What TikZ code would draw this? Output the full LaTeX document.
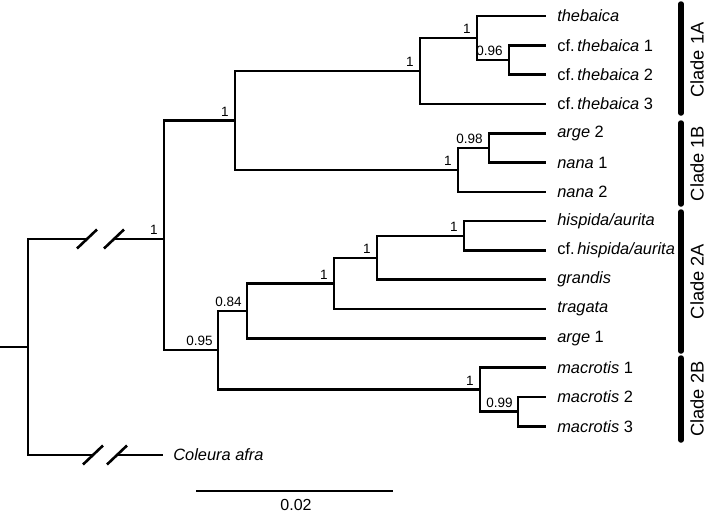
\documentclass[tikz,border=0pt]{standalone}
\usepackage{fontspec}
\setmainfont{Liberation Sans}
\begin{document}
\begin{tikzpicture}[x=1pt,y=-1pt,line width=2.6pt,
        leaf/.style={anchor=west,inner xsep=10pt,inner ysep=0pt,font=\fontsize{16.4}{16}\selectfont},
        supp/.style={anchor=south east,inner sep=1pt,font=\fontsize{13.5}{14}\selectfont},
        clade/.style={rotate=90,inner sep=0pt,font=\fontsize{18.3}{18}\selectfont},
        cbar/.style={line width=5.5pt,line cap=round}]
    \useasboundingbox (0,0) rectangle (709,515);

    % tips
    \node[leaf] (thebaica) at (546,16) {\textit{thebaica}};
    \node[leaf] (cft1) at (546,45.3) {cf.\,\textit{thebaica} 1};
    \node[leaf] (cft2) at (546,74.6) {cf.\,\textit{thebaica} 2};
    \node[leaf] (cft3) at (546,103.9) {cf.\,\textit{thebaica} 3};
    \node[leaf] (arge2) at (546,133.2) {\textit{arge} 2};
    \node[leaf] (nana1) at (546,162.5) {\textit{nana} 1};
    \node[leaf] (nana2) at (546,191.8) {\textit{nana} 2};
    \node[leaf] (hisp) at (546,221.1) {\textit{hispida/aurita}};
    \node[leaf] (cfhisp) at (546,250.4) {cf.\,\textit{hispida/aurita}};
    \node[leaf] (grandis) at (546,279.7) {\textit{grandis}};
    \node[leaf] (tragata) at (546,309) {\textit{tragata}};
    \node[leaf] (arge1) at (546,338.3) {\textit{arge} 1};
    \node[leaf] (mac1) at (546,367.6) {\textit{macrotis} 1};
    \node[leaf] (mac2) at (546,396.9) {\textit{macrotis} 2};
    \node[leaf] (mac3) at (546,426.2) {\textit{macrotis} 3};
    \node[leaf,inner xsep=9pt] (afra) at (163,455) {\textit{Coleura afra}};

    % inner nodes
    \coordinate (a3) at (509,60);
    \coordinate (a2) at (477,38);
    \coordinate (a1) at (420,71);
    \coordinate (b2) at (489,148);
    \coordinate (b1) at (458,170);
    \coordinate (n1) at (235,120.5);
    \coordinate (g) at (464,235.8);
    \coordinate (f) at (377,258);
    \coordinate (e) at (334,283.5);
    \coordinate (d) at (247,311);
    \coordinate (i) at (518,411.5);
    \coordinate (h) at (480,389.5);
    \coordinate (c) at (218,350);
    \coordinate (top) at (164,239);
    \coordinate (root) at (28,347);
    \coordinate (stub) at (0,347);

    % breaks
    \coordinate (brk1) at (87,239);
    \coordinate (brk2) at (114,239);
    \coordinate (brk3) at (93,455);
    \coordinate (brk4) at (117,455);

    % branches
    \draw (a3) |- (cft1.west);
    \draw (a3) |- (cft2.west);
    \draw (a2) |- (thebaica.west);
    \draw (a2) |- (a3);
    \draw (a1) |- (a2);
    \draw (a1) |- (cft3.west);
    \draw (b2) |- (arge2.west);
    \draw (b2) |- (nana1.west);
    \draw (b1) |- (b2);
    \draw (b1) |- (nana2.west);
    \draw (n1) |- (a1);
    \draw (n1) |- (b1);
    \draw (g) |- (hisp.west);
    \draw (g) |- (cfhisp.west);
    \draw (f) |- (g);
    \draw (f) |- (grandis.west);
    \draw (e) |- (f);
    \draw (e) |- (tragata.west);
    \draw (d) |- (e);
    \draw (d) |- (arge1.west);
    \draw (i) |- (mac2.west);
    \draw (i) |- (mac3.west);
    \draw (h) |- (mac1.west);
    \draw (h) |- (i);
    \draw (c) |- (d);
    \draw (c) |- (h);
    \draw (top) |- (n1);
    \draw (top) |- (c);
    \draw (stub) -- (root);
    \draw (root) |- (brk1);
    \draw (brk2) -- (top);
    \draw (root) |- (brk3);
    \draw (brk4) -- (afra.west);
    \foreach \b in {brk1,brk2,brk3,brk4}
        \draw ([shift={(-10,9.5)}]\b) -- ([shift={(10,-9.5)}]\b);

    % support values
    \node[supp] at ([shift={(-4,-2)}]a3) {0.96};
    \node[supp] at ([shift={(-4,-2)}]a2) {1};
    \node[supp] at ([shift={(-4,-2)}]a1) {1};
    \node[supp] at ([shift={(-4,-2)}]b2) {0.98};
    \node[supp] at ([shift={(-4,-2)}]b1) {1};
    \node[supp] at ([shift={(-4,-2)}]n1) {1};
    \node[supp] at ([shift={(-4,-2)}]g) {1};
    \node[supp] at ([shift={(-4,-2)}]f) {1};
    \node[supp] at ([shift={(-4,-2)}]e) {1};
    \node[supp] at ([shift={(-3,-2)}]d) {0.84};
    \node[supp] at ([shift={(-4,-2)}]h) {1};
    \node[supp] at ([shift={(-3,-2)}]i) {0.99};
    \node[supp] at ([shift={(-3,-2)}]c) {0.95};
    \node[supp] at ([shift={(-4,-2)}]top) {1};

    % clades
    \coordinate (c1a) at (681,4);   \coordinate (c1a') at (681,113);
    \coordinate (c1b) at (681,123); \coordinate (c1b') at (681,204);
    \coordinate (c2a) at (681,212); \coordinate (c2a') at (681,351);
    \coordinate (c2b) at (681,358); \coordinate (c2b') at (681,440);
    \draw[cbar] (c1a) -- (c1a');
    \draw[cbar] (c1b) -- (c1b');
    \draw[cbar] (c2a) -- (c2a');
    \draw[cbar] (c2b) -- (c2b');
    \node[clade] (l1a) at (697,60) {Clade 1A};
    \node[clade] (l1b) at (697,163.5) {Clade 1B};
    \node[clade] (l2a) at (697,281.5) {Clade 2A};
    \node[clade] (l2b) at (697,399) {Clade 2B};

    % scale bar
    \coordinate (s0) at (196,491);
    \coordinate (s1) at (393,491);
    \draw[line width=2.4pt] (s0) -- (s1);
    \node[font=\fontsize{16}{16}\selectfont] (slab) at (296,505) {0.02};
\end{tikzpicture}
\end{document}
